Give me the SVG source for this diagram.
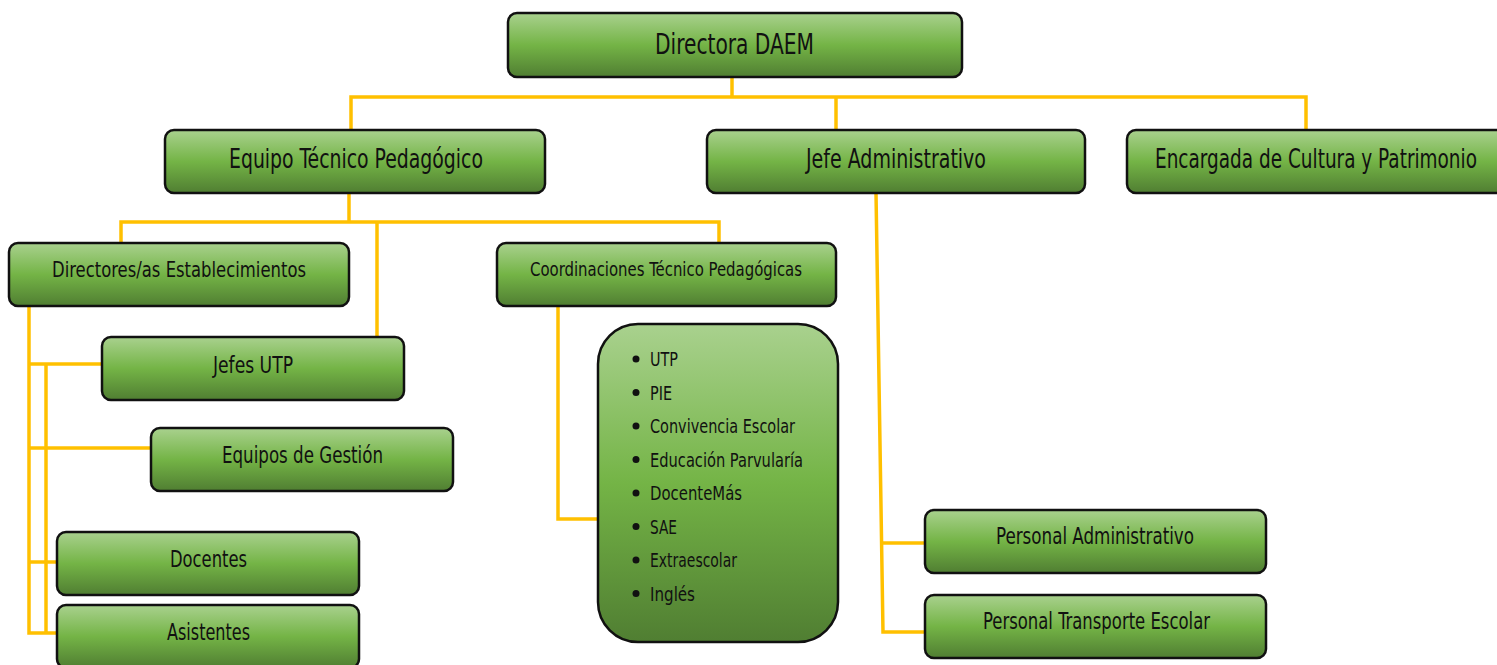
<svg xmlns="http://www.w3.org/2000/svg" width="1497" height="665" viewBox="0 0 1497 665">
<defs>
<linearGradient id="g" x1="0" y1="0" x2="0" y2="1">
<stop offset="0" stop-color="#a9d18e"/>
<stop offset="0.5" stop-color="#74b446"/>
<stop offset="1" stop-color="#507e32"/>
</linearGradient>
<style>
.box{fill:url(#g);stroke:#111;stroke-width:2.5}
.t{font-family:"DejaVu Sans Condensed","Liberation Sans Narrow","Liberation Sans",sans-serif;fill:#111}
.c{fill:none;stroke:#ffc000;stroke-width:3.5;stroke-linejoin:miter}
</style>
</defs>
<rect width="1497" height="665" fill="#fff"/>
<g id="connectors">
<polyline class="c" points="732,77 732,97"/>
<polyline class="c" points="351,130 351,97 1306,97 1306,130"/>
<polyline class="c" points="836,97 836,130"/>
<polyline class="c" points="349,193 349,222"/>
<polyline class="c" points="121,243 121,222 719,222 719,243"/>
<polyline class="c" points="377,222 377,337"/>
<polyline class="c" points="29,306 29,633 57,633"/>
<polyline class="c" points="29,364 102,364"/>
<polyline class="c" points="29,448 151,448"/>
<polyline class="c" points="29,562 57,562"/>
<polyline class="c" points="46,364 46,633"/>
<polyline class="c" points="558,306 558,519 600,519"/>
<polyline class="c" points="876,193 883,632 925,632"/>
<polyline class="c" points="882,543 925,543"/>
</g>
<g id="directora">
<rect class="box" x="508" y="13" width="454" height="64" rx="9"/>
<text class="t" x="655" y="54" font-size="28" textLength="159" lengthAdjust="spacingAndGlyphs">Directora DAEM</text>
</g>
<g id="equipo">
<rect class="box" x="165" y="130" width="380" height="63" rx="9"/>
<text class="t" x="229" y="168" font-size="26" textLength="254" lengthAdjust="spacingAndGlyphs">Equipo Técnico Pedagógico</text>
</g>
<g id="jefe-adm">
<rect class="box" x="707" y="130" width="378" height="63" rx="9"/>
<text class="t" x="806" y="168" font-size="26" textLength="180" lengthAdjust="spacingAndGlyphs">Jefe Administrativo</text>
</g>
<g id="encargada">
<rect class="box" x="1127" y="130" width="390" height="63" rx="9"/>
<text class="t" x="1155" y="168" font-size="26" textLength="322" lengthAdjust="spacingAndGlyphs">Encargada de Cultura y Patrimonio</text>
</g>
<g id="directores">
<rect class="box" x="9" y="243" width="340" height="63" rx="9"/>
<text class="t" x="52" y="277" font-size="22" textLength="254" lengthAdjust="spacingAndGlyphs">Directores/as Establecimientos</text>
</g>
<g id="coordinaciones">
<rect class="box" x="497" y="243" width="339" height="63" rx="9"/>
<text class="t" x="530" y="276" font-size="19" textLength="272" lengthAdjust="spacingAndGlyphs">Coordinaciones Técnico Pedagógicas</text>
</g>
<g id="jefes-utp">
<rect class="box" x="102" y="337" width="302" height="63" rx="9"/>
<text class="t" x="213" y="373" font-size="23" textLength="80" lengthAdjust="spacingAndGlyphs">Jefes UTP</text>
</g>
<g id="equipos-gestion">
<rect class="box" x="151" y="428" width="302" height="63" rx="9"/>
<text class="t" x="222" y="463" font-size="23" textLength="161" lengthAdjust="spacingAndGlyphs">Equipos de Gestión</text>
</g>
<g id="docentes">
<rect class="box" x="57" y="532" width="302" height="63" rx="9"/>
<text class="t" x="170" y="567" font-size="23" textLength="77" lengthAdjust="spacingAndGlyphs">Docentes</text>
</g>
<g id="asistentes">
<rect class="box" x="57" y="605" width="302" height="63" rx="9"/>
<text class="t" x="167" y="640" font-size="23" textLength="83" lengthAdjust="spacingAndGlyphs">Asistentes</text>
</g>
<g id="lista">
<rect class="box" x="598" y="324" width="240" height="318" rx="40"/>
<g fill="#111">
<circle cx="636" cy="359" r="3.5"/>
<circle cx="636" cy="392.5" r="3.5"/>
<circle cx="636" cy="426" r="3.5"/>
<circle cx="636" cy="459.5" r="3.5"/>
<circle cx="636" cy="493" r="3.5"/>
<circle cx="636" cy="526.5" r="3.5"/>
<circle cx="636" cy="560" r="3.5"/>
<circle cx="636" cy="593.5" r="3.5"/>
</g>
<text class="t" x="650" y="366" font-size="19.5" textLength="28" lengthAdjust="spacingAndGlyphs">UTP</text>
<text class="t" x="650" y="399.5" font-size="19.5" textLength="22" lengthAdjust="spacingAndGlyphs">PIE</text>
<text class="t" x="650" y="433" font-size="19.5" textLength="145" lengthAdjust="spacingAndGlyphs">Convivencia Escolar</text>
<text class="t" x="650" y="466.5" font-size="19.5" textLength="153" lengthAdjust="spacingAndGlyphs">Educación Parvularía</text>
<text class="t" x="650" y="500" font-size="19.5" textLength="92" lengthAdjust="spacingAndGlyphs">DocenteMás</text>
<text class="t" x="650" y="533.5" font-size="19.5" textLength="27" lengthAdjust="spacingAndGlyphs">SAE</text>
<text class="t" x="650" y="567" font-size="19.5" textLength="87" lengthAdjust="spacingAndGlyphs">Extraescolar</text>
<text class="t" x="650" y="600.5" font-size="19.5" textLength="45" lengthAdjust="spacingAndGlyphs">Inglés</text>
</g>
<g id="personal-adm">
<rect class="box" x="925" y="510" width="341" height="63" rx="9"/>
<text class="t" x="996" y="544" font-size="23" textLength="198" lengthAdjust="spacingAndGlyphs">Personal Administrativo</text>
</g>
<g id="personal-transporte">
<rect class="box" x="925" y="595" width="341" height="63" rx="9"/>
<text class="t" x="983" y="629" font-size="23" textLength="227" lengthAdjust="spacingAndGlyphs">Personal Transporte Escolar</text>
</g>
</svg>
